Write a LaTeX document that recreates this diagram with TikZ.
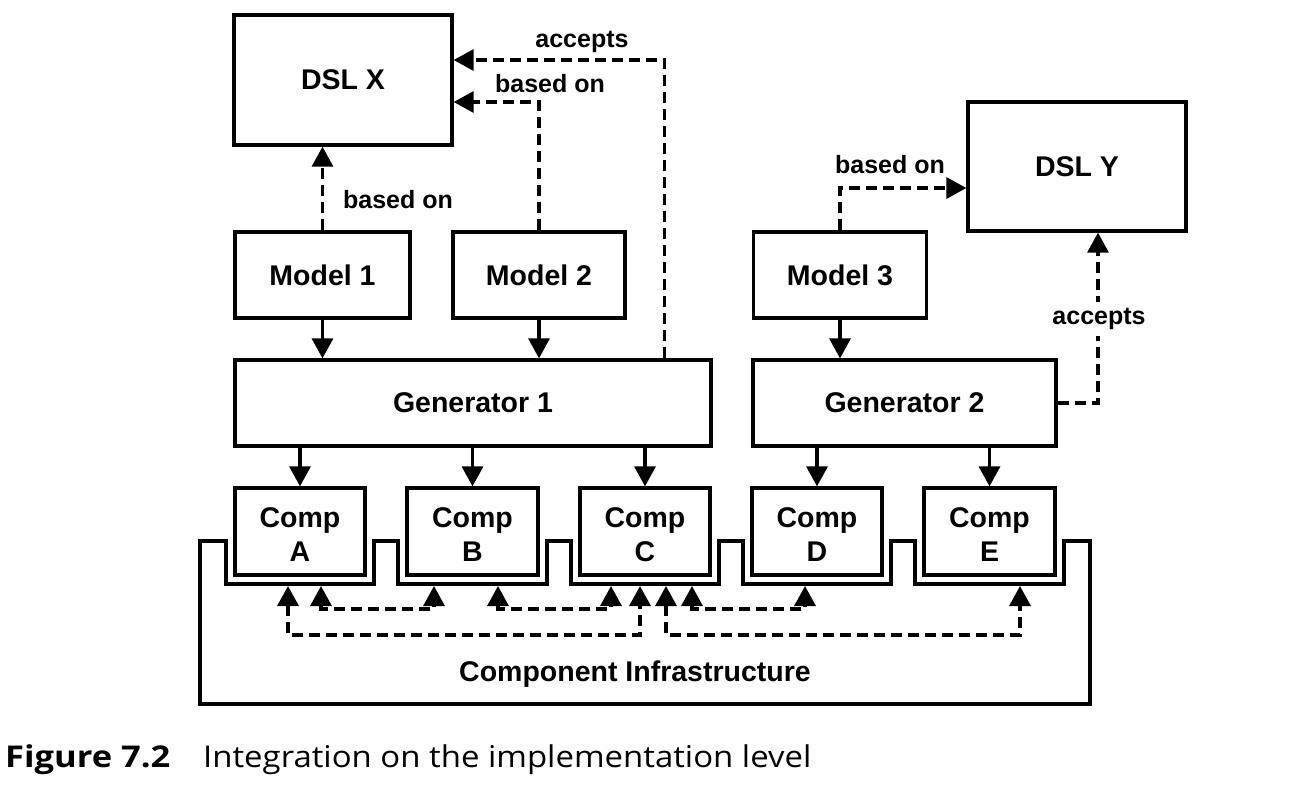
\documentclass[tikz,border=0pt]{standalone}
\usepackage{fontspec}
\setmainfont{Liberation Sans}
\newfontfamily\capfont{Open Sans}
\usetikzlibrary{arrows.meta,calc}
\newcommand\complbl[1]{{\fontsize{28.5}{34}\selectfont\begin{tabular}{@{}c@{}}\rule{0pt}{35.2pt}Comp\\#1\end{tabular}}}
\begin{document}
\begin{tikzpicture}[x=1pt,y=-1pt,
  box/.style={draw, line width=3.3pt, font=\bfseries\fontsize{28.5}{38}\selectfont, align=center, inner sep=0pt},
  lbl/.style={font=\bfseries\fontsize{25}{28}\selectfont, inner sep=1pt},
  arr/.style={line width=3.3pt, -{Triangle[length=20pt,width=21pt]}},
  darr/.style={line width=3.3pt, dash pattern=on 11pt off 6pt, -{Triangle[length=20pt,width=21pt]}},
  ddarr/.style={line width=3.3pt, dash pattern=on 11pt off 6pt, {Triangle[length=20pt,width=21pt]}-{Triangle[length=20pt,width=21pt]}},
  infra/.style={draw, line width=3.3pt, line join=miter},
  capt/.style={anchor=base west, inner sep=0pt, font=\capfont\fontsize{30}{34}\selectfont},
]
\useasboundingbox (0,0) rectangle (1290,788);

% top boxes
\node[box, minimum width=218pt, minimum height=130pt] (dslx) at (343,80) {DSL X};
\node[box, minimum width=218pt, minimum height=129pt] (dsly) at (1077,166.5) {DSL Y};
\node[box, minimum width=175pt, minimum height=86pt] (m1) at (322.5,275) {Model 1};
\node[box, minimum width=172pt, minimum height=86pt] (m2) at (539,275) {Model 2};
\node[box, minimum width=173pt, minimum height=86pt] (m3) at (840,275) {Model 3};
\node[box, minimum width=476pt, minimum height=86pt] (g1) at (473,403) {Generator 1};
\node[box, minimum width=303pt, minimum height=86pt] (g2) at (904.5,403) {Generator 2};

% components
\node[box, minimum width=130pt, minimum height=87pt] (ca) at (300,531.5) {\complbl{A}};
\node[box, minimum width=131pt, minimum height=87pt] (cb) at (472.5,531.5) {\complbl{B}};
\node[box, minimum width=130pt, minimum height=87pt] (cc) at (645,531.5) {\complbl{C}};
\node[box, minimum width=130pt, minimum height=87pt] (cd) at (817,531.5) {\complbl{D}};
\node[box, minimum width=131pt, minimum height=87pt] (ce) at (989.5,531.5) {\complbl{E}};

% infrastructure outline
\draw[infra] (200,541) -- (226,541) -- (226,584) -- (374,584) -- (374,541)
  -- (398,541) -- (398,584) -- (547,584) -- (547,541)
  -- (571,541) -- (571,584) -- (719,584) -- (719,541)
  -- (743,541) -- (743,584) -- (891,584) -- (891,541)
  -- (915,541) -- (915,584) -- (1064,584) -- (1064,541)
  -- (1090,541) -- (1090,704) -- (200,704) -- cycle;
\node[lbl, font=\bfseries\fontsize{28.5}{32}\selectfont] (infl) at (635,674) {Component Infrastructure};

% solid arrows
\draw[arr] (m1) -- (m1 |- g1.north);
\draw[arr] (m2) -- (m2 |- g1.north);
\draw[arr] (m3) -- (m3 |- g2.north);
\draw[arr] (ca |- g1.south) -- (ca);
\draw[arr] (cb |- g1.south) -- (cb);
\draw[arr] (cc |- g1.south) -- (cc);
\draw[arr] (cd |- g2.south) -- (cd);
\draw[arr] (ce |- g2.south) -- (ce);

% dashed relations
\draw[darr] (m1.north) -- (m1.north |- dslx.south);
\node[lbl] (l1) at (398,200) {based on};
\draw[darr] (m2.north) |- ($(dslx.east)+(0,22)$);
\node[lbl] (l2) at (550,84) {based on};
\coordinate (g1acc) at ($(g1.north west)+(431,0)$);
\draw[darr] (g1acc) |- ($(dslx.east)+(0,-20)$);
\node[lbl] (l3) at (582,42) {accepts};
\draw[darr] (m3.north) |- ($(dsly.west)+(0,21.5)$);
\node[lbl] (l4) at (890,165) {based on};
\draw[darr] (g2.east) -| ($(dsly.south)+(21,0)$);
\node[lbl, fill=white, inner ysep=6pt] (l5) at (1099,319) {accepts};

% component interconnections
\coordinate (a1) at (288,586);
\coordinate (a2) at (321,586);
\coordinate (b1) at (434,586);
\coordinate (b2) at (498,586);
\coordinate (c1) at (611,586);
\coordinate (c2) at (640,586);
\coordinate (c3) at (666,586);
\coordinate (c4) at (692,586);
\coordinate (d1) at (805,586);
\coordinate (e1) at (1020,586);
\draw[ddarr] (a2) -- ++(0,23) -| (b1);
\draw[ddarr] (b2) -- ++(0,23) -| (c1);
\draw[ddarr] (a1) -- ++(0,49) -| (c2);
\draw[ddarr] (c4) -- ++(0,23) -| (d1);
\draw[ddarr] (c3) -- ++(0,49) -| (e1);

% caption
\node[capt] (capnum) at (5,767) {\scalebox{1.15}[1]{\textbf{Figure 7.2}}};
\node[capt] (captext) at (203,767) {\scalebox{1.098}[1]{Integration on the implementation level}};
\end{tikzpicture}
\end{document}
